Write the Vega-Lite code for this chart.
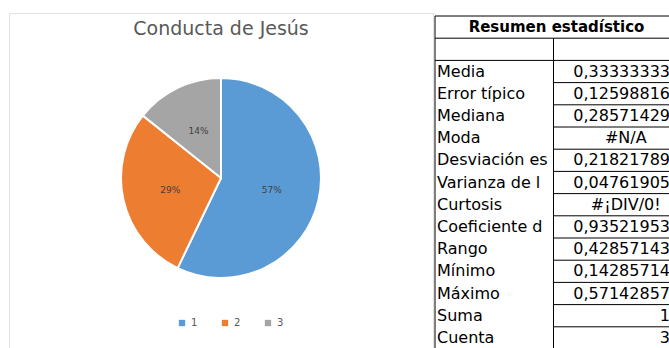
{
  "$schema": "https://vega.github.io/schema/vega-lite/v6.json",
  "padding": {"left": 8, "top": 12, "right": 0, "bottom": 0},
  "background": "white",
  "spacing": 0,
  "config": {"font": "DejaVu Sans", "concat": {"spacing": 0}},
  "datasets": {
    "pie": [
      {"grupo": "1", "valor": 0.5714285714},
      {"grupo": "2", "valor": 0.2857142857},
      {"grupo": "3", "valor": 0.1428571429}
    ],
    "tabla": [
      {"fila": "Media", "valor": "0,33333333", "tipo": "num"},
      {"fila": "Error típico", "valor": "0,12598816", "tipo": "num"},
      {"fila": "Mediana", "valor": "0,28571429", "tipo": "num"},
      {"fila": "Moda", "valor": "#N/A", "tipo": "error"},
      {"fila": "Desviación estándar", "valor": "0,21821789", "tipo": "num"},
      {"fila": "Varianza de la muestra", "valor": "0,04761905", "tipo": "num"},
      {"fila": "Curtosis", "valor": "#¡DIV/0!", "tipo": "error"},
      {"fila": "Coeficiente de asimetría", "valor": "0,93521953", "tipo": "num"},
      {"fila": "Rango", "valor": "0,42857143", "tipo": "num"},
      {"fila": "Mínimo", "valor": "0,14285714", "tipo": "num"},
      {"fila": "Máximo", "valor": "0,57142857", "tipo": "num"},
      {"fila": "Suma", "valor": "1", "tipo": "num"},
      {"fila": "Cuenta", "valor": "3", "tipo": "num"}
    ]
  },
  "hconcat": [
    {
      "width": 424,
      "height": 336,
      "view": {"stroke": "#e3e3e3", "strokeWidth": 1},
      "title": {"text": "Conducta de Jesús", "fontSize": 19, "fontWeight": "normal", "color": "#595959", "font": "DejaVu Sans", "anchor": "middle", "offset": -26},
      "data": {"name": "pie"},
      "encoding": {
        "theta": {"field": "valor", "type": "quantitative", "stack": true},
        "order": {"field": "grupo", "type": "ordinal"},
        "color": {
          "field": "grupo", "type": "nominal",
          "scale": {"domain": ["1", "2", "3"], "range": ["#5B9BD5", "#ED7D31", "#A5A5A5"]},
          "legend": {"title": null, "orient": "none", "legendX": 168, "legendY": 305, "direction": "horizontal", "symbolType": "square", "symbolSize": 40, "symbolStrokeWidth": 0, "labelFontSize": 10, "labelColor": "#595959", "columnPadding": 22}
        }
      },
      "layer": [
        {"mark": {"type": "arc", "outerRadius": 100, "stroke": "white", "strokeWidth": 2, "yOffset": -3}},
        {
          "mark": {"type": "text", "radius": 52, "fontSize": 9, "fill": "#404040", "yOffset": -3},
          "encoding": {
            "text": {"field": "valor", "type": "quantitative", "format": ".0%"}
          }
        }
      ]
    },
    {
      "width": 237,
      "height": 336,
      "view": {"stroke": null},
      "layer": [
        {
          "data": {"name": "tabla"},
          "mark": {"type": "text", "align": "left", "baseline": "middle", "dx": 2, "fontSize": 16, "limit": 111, "ellipsis": "\u200b", "color": "black"},
          "encoding": {
            "y": {"field": "fila", "type": "nominal", "axis": null, "scale": {"type": "band", "domain": ["Resumen estadístico", "vacío", "Media", "Error típico", "Mediana", "Moda", "Desviación estándar", "Varianza de la muestra", "Curtosis", "Coeficiente de asimetría", "Rango", "Mínimo", "Máximo", "Suma", "Cuenta"], "range": [3, 336], "paddingInner": 0, "paddingOuter": 0}},
            "x": {"datum": "etiqueta", "type": "nominal", "bandPosition": 0, "axis": null, "scale": {"type": "band", "domain": ["etiqueta", "valor"], "paddingInner": 0, "paddingOuter": 0}},
            "text": {"field": "fila", "type": "nominal"}
          }
        },
        {
          "data": {"name": "tabla"},
          "transform": [{"filter": "datum.tipo == 'num'"}],
          "mark": {"type": "text", "align": "right", "baseline": "middle", "dx": -2, "fontSize": 16, "color": "black"},
          "encoding": {
            "y": {"field": "fila", "type": "nominal", "axis": null, "scale": {"type": "band", "domain": ["Resumen estadístico", "vacío", "Media", "Error típico", "Mediana", "Moda", "Desviación estándar", "Varianza de la muestra", "Curtosis", "Coeficiente de asimetría", "Rango", "Mínimo", "Máximo", "Suma", "Cuenta"], "range": [3, 336], "paddingInner": 0, "paddingOuter": 0}},
            "x": {"datum": "valor", "type": "nominal", "bandPosition": 1, "axis": null, "scale": {"type": "band", "domain": ["etiqueta", "valor"], "paddingInner": 0, "paddingOuter": 0}},
            "text": {"field": "valor", "type": "nominal"}
          }
        },
        {
          "data": {"name": "tabla"},
          "transform": [{"filter": "datum.tipo == 'error'"}],
          "mark": {"type": "text", "align": "center", "baseline": "middle", "dx": 13, "fontSize": 16, "color": "black"},
          "encoding": {
            "y": {"field": "fila", "type": "nominal", "axis": null, "scale": {"type": "band", "domain": ["Resumen estadístico", "vacío", "Media", "Error típico", "Mediana", "Moda", "Desviación estándar", "Varianza de la muestra", "Curtosis", "Coeficiente de asimetría", "Rango", "Mínimo", "Máximo", "Suma", "Cuenta"], "range": [3, 336], "paddingInner": 0, "paddingOuter": 0}},
            "x": {"datum": "valor", "type": "nominal", "bandPosition": 0.5, "axis": null, "scale": {"type": "band", "domain": ["etiqueta", "valor"], "paddingInner": 0, "paddingOuter": 0}},
            "text": {"field": "valor", "type": "nominal"}
          }
        },
        {
          "data": {"values": [{"fila": "Resumen estadístico"}]},
          "mark": {"type": "text", "align": "center", "baseline": "middle", "dx": 3, "fontSize": 15, "fontWeight": "bold", "color": "black"},
          "encoding": {
            "y": {"field": "fila", "type": "nominal", "axis": null, "scale": {"type": "band", "domain": ["Resumen estadístico", "vacío", "Media", "Error típico", "Mediana", "Moda", "Desviación estándar", "Varianza de la muestra", "Curtosis", "Coeficiente de asimetría", "Rango", "Mínimo", "Máximo", "Suma", "Cuenta"], "range": [3, 336], "paddingInner": 0, "paddingOuter": 0}},
            "text": {"field": "fila", "type": "nominal"}
          }
        },
        {
          "data": {"values": [{"fila": "Resumen estadístico"}, {"fila": "vacío"}]},
          "mark": {"type": "rule", "color": "black", "strokeWidth": 1},
          "encoding": {
            "y": {"field": "fila", "type": "nominal", "bandPosition": 1, "axis": null, "scale": {"type": "band", "domain": ["Resumen estadístico", "vacío", "Media", "Error típico", "Mediana", "Moda", "Desviación estándar", "Varianza de la muestra", "Curtosis", "Coeficiente de asimetría", "Rango", "Mínimo", "Máximo", "Suma", "Cuenta"], "range": [3, 336], "paddingInner": 0, "paddingOuter": 0}}
          }
        },
        {
          "data": {"values": [{"fila": "Resumen estadístico"}]},
          "mark": {"type": "rule", "color": "black", "strokeWidth": 1},
          "encoding": {
            "y": {"field": "fila", "type": "nominal", "bandPosition": 0, "axis": null, "scale": {"type": "band", "domain": ["Resumen estadístico", "vacío", "Media", "Error típico", "Mediana", "Moda", "Desviación estándar", "Varianza de la muestra", "Curtosis", "Coeficiente de asimetría", "Rango", "Mínimo", "Máximo", "Suma", "Cuenta"], "range": [3, 336], "paddingInner": 0, "paddingOuter": 0}}
          }
        },
        {
          "data": {"name": "tabla"},
          "mark": {"type": "rule", "color": "black", "strokeWidth": 1},
          "encoding": {
            "y": {"field": "fila", "type": "nominal", "bandPosition": 1, "axis": null, "scale": {"type": "band", "domain": ["Resumen estadístico", "vacío", "Media", "Error típico", "Mediana", "Moda", "Desviación estándar", "Varianza de la muestra", "Curtosis", "Coeficiente de asimetría", "Rango", "Mínimo", "Máximo", "Suma", "Cuenta"], "range": [3, 336], "paddingInner": 0, "paddingOuter": 0}},
            "x": {"datum": "valor", "type": "nominal", "bandPosition": 0, "axis": null, "scale": {"type": "band", "domain": ["etiqueta", "valor"], "paddingInner": 0, "paddingOuter": 0}},
            "x2": {"datum": "valor", "bandPosition": 1}
          }
        },
        {
          "data": {"values": [{"borde": "izquierdo"}]},
          "mark": {"type": "rule", "color": "black", "strokeWidth": 1},
          "encoding": {
            "x": {"datum": "etiqueta", "type": "nominal", "bandPosition": 0, "axis": null, "scale": {"type": "band", "domain": ["etiqueta", "valor"], "paddingInner": 0, "paddingOuter": 0}},
            "y": {"datum": "Resumen estadístico", "type": "nominal", "bandPosition": 0, "axis": null, "scale": {"type": "band", "domain": ["Resumen estadístico", "vacío", "Media", "Error típico", "Mediana", "Moda", "Desviación estándar", "Varianza de la muestra", "Curtosis", "Coeficiente de asimetría", "Rango", "Mínimo", "Máximo", "Suma", "Cuenta"], "range": [3, 336], "paddingInner": 0, "paddingOuter": 0}},
            "y2": {"datum": "Cuenta", "bandPosition": 1}
          }
        },
        {
          "data": {"values": [{"borde": "divisor"}]},
          "mark": {"type": "rule", "color": "black", "strokeWidth": 1},
          "encoding": {
            "x": {"datum": "valor", "type": "nominal", "bandPosition": 0, "axis": null, "scale": {"type": "band", "domain": ["etiqueta", "valor"], "paddingInner": 0, "paddingOuter": 0}},
            "y": {"datum": "vacío", "type": "nominal", "bandPosition": 0, "axis": null, "scale": {"type": "band", "domain": ["Resumen estadístico", "vacío", "Media", "Error típico", "Mediana", "Moda", "Desviación estándar", "Varianza de la muestra", "Curtosis", "Coeficiente de asimetría", "Rango", "Mínimo", "Máximo", "Suma", "Cuenta"], "range": [3, 336], "paddingInner": 0, "paddingOuter": 0}},
            "y2": {"datum": "Cuenta", "bandPosition": 1}
          }
        }
      ]
    }
  ]
}
